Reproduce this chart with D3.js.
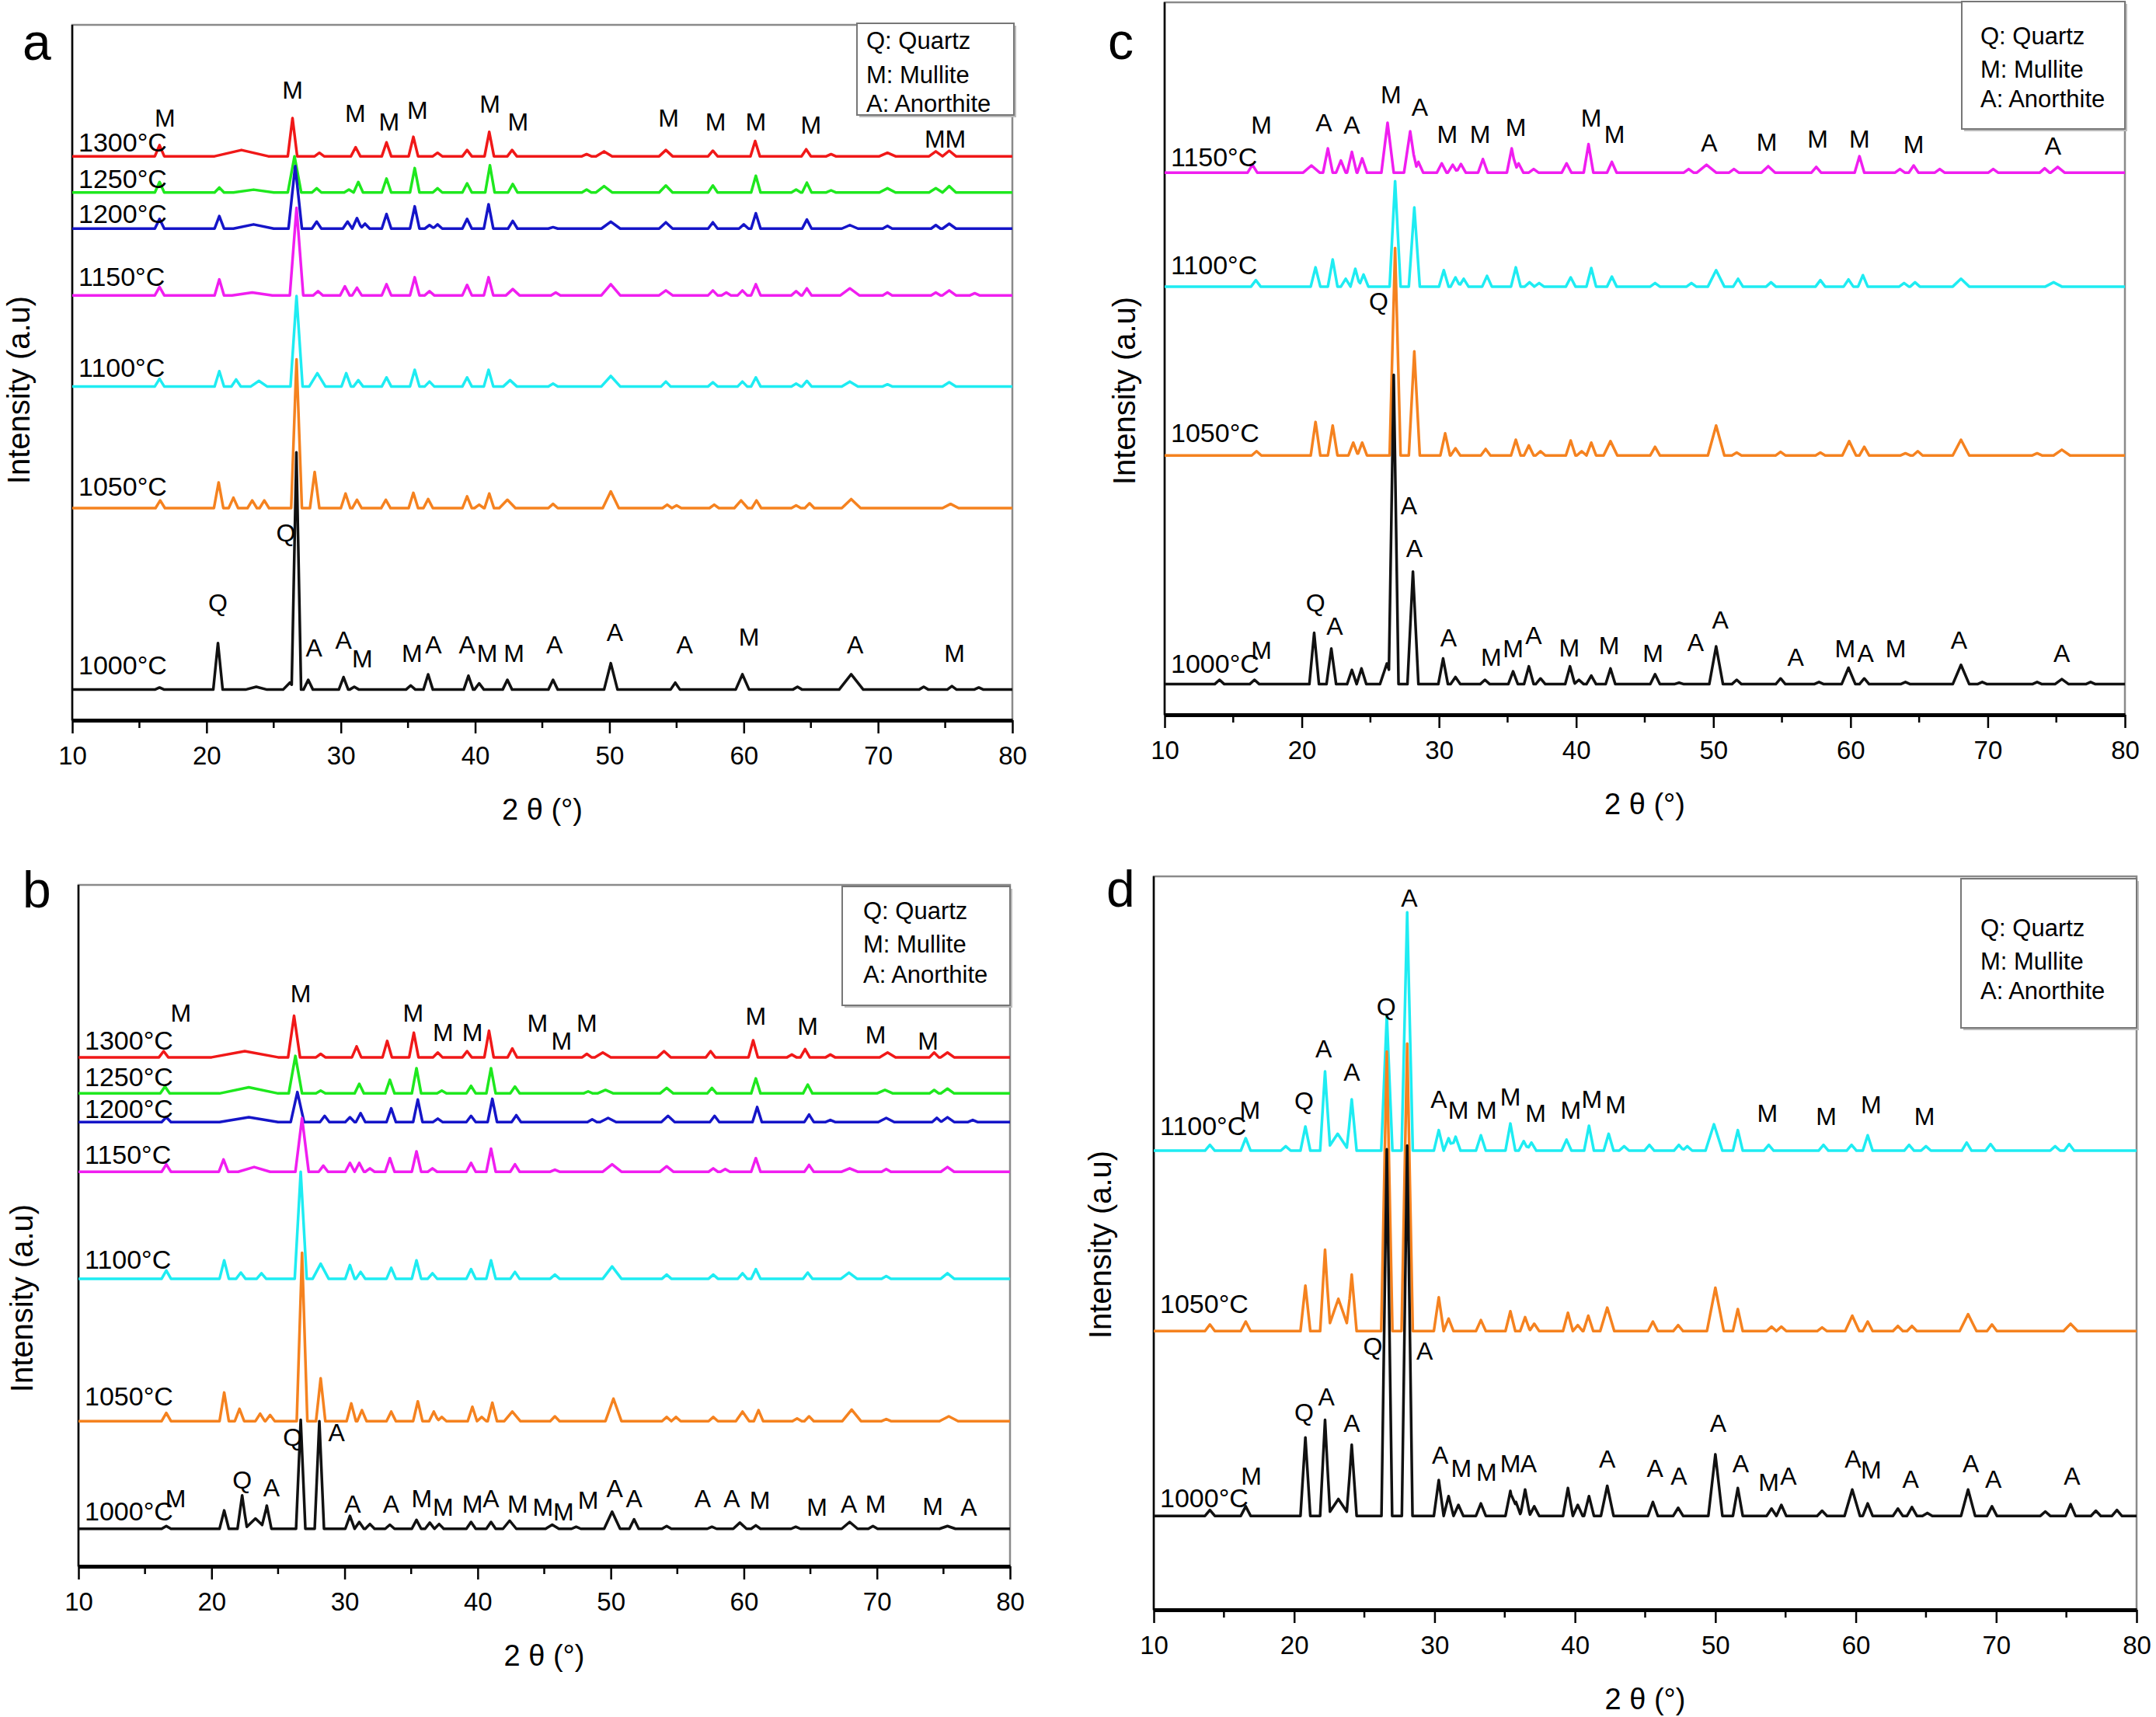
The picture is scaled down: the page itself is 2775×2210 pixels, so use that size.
<!DOCTYPE html>
<html>
<head>
<meta charset="utf-8">
<script src="https://cdn.jsdelivr.net/npm/d3@7"></script>
<style>
  body { margin: 0; background: #fff; }
  text { font-family: "Liberation Sans", Arial, sans-serif; fill: #000; }
</style>
</head>
<body>
<div id="chart"></div>
<script>
// ---- data: peaks are [2theta, intensity (a.u., 0-1000 per panel), half width (deg, optional)]
const xTicks = [10, 20, 30, 40, 50, 60, 70, 80]
const xMinorTicks = [15, 25, 35, 45, 55, 65, 75]
const legendRows = ["Q: Quartz", "M: Mullite", "A: Anorthite"]
const tempsAB = ["1000°C", "1050°C", "1100°C", "1150°C", "1200°C", "1250°C", "1300°C"]
const tempsC = ["1000°C", "1050°C", "1100°C", "1150°C"]
const tempsD = ["1000°C", "1050°C", "1100°C"]
const tempColors = ["#111111", "#f5821f", "#1eecf2", "#f01ef0", "#1515c8", "#1ee81e", "#f01818"]

const offsetsA = [44, 305, 480, 611, 707, 759, 811]
const offsetsB = [55, 213, 422, 579, 652, 694, 747]
const offsetsC = [43, 364, 601, 761]
const offsetsD = [128, 380, 626]

const tempLabelA = [66, 323, 494, 625, 715, 765, 818]
const tempLabelB = [67, 236, 437, 591, 658, 705, 758]
const tempLabelC = [59, 383, 618, 770]
const tempLabelD = [140, 405, 647]

const peaksA = [
  [[16.5,3],[20.85,67],[23.7,4,0.8],[26.2,10,0.5],[26.69,341],[27.57,14],[30.2,18],[31.0,4],[35.2,6],[36.5,22],[39.5,20],[40.3,9],[42.4,14],[45.8,14],[50.1,38,0.5],[54.9,10],[59.9,22,0.5],[64.0,4],[68.0,22,0.9],[73.4,4],[75.5,5],[77.5,3]],
  [[16.55,11],[20.9,37],[22.0,15],[23.4,11],[24.3,11],[26.7,214,0.4],[28.05,52],[30.35,21],[31.2,12],[33.35,12],[35.4,22],[36.5,13],[39.4,17],[40.3,5],[41.05,21],[42.4,12,0.6],[45.8,6],[50.1,24,0.6],[54.3,5],[55.0,4],[57.8,5],[59.8,11,0.5],[60.95,11],[63.9,4],[64.9,7],[68.0,13,0.7],[75.4,6,0.6]],
  [[16.5,11],[20.95,22],[22.2,10],[23.9,8,0.6],[26.7,130,0.45],[28.25,19,0.6],[30.4,19],[31.3,9],[33.4,13],[35.5,24],[36.6,7],[39.4,13],[41.0,24],[42.6,9,0.5],[45.8,4],[50.1,15,0.7],[54.2,7],[57.7,6],[59.9,7],[60.9,13],[63.9,4],[64.7,8],[67.9,7,0.6],[70.7,3],[75.3,6,0.5]],
  [[16.5,12],[20.95,23],[23.4,4,1.5],[26.7,126,0.5],[28.3,6],[30.3,13],[31.2,11],[33.4,16],[35.5,26],[36.6,6],[39.4,15],[41.0,26],[42.8,9,0.5],[46.0,4],[50.1,16,0.7],[54.2,7,0.5],[57.7,7],[58.7,4],[59.9,7],[60.9,16],[63.9,6],[64.7,10],[67.9,10,0.7],[70.7,4],[74.3,4],[75.3,7,0.5],[77.2,3]],
  [[16.5,14],[20.95,18],[23.5,6,1.5],[26.6,90,0.5],[28.2,10],[30.5,10],[31.2,15],[31.8,7],[33.4,21],[35.5,32],[36.6,5],[37.2,6],[39.4,14],[41.0,35],[42.8,11],[45.8,2],[50.1,10,0.7],[54.2,9,0.5],[57.7,9],[60.0,6],[60.9,22],[64.7,13],[67.9,5,0.6],[70.7,4],[74.3,5],[75.3,7,0.5]],
  [[16.5,15],[20.95,7],[23.5,4,1.5],[26.55,52,0.5],[28.2,6],[30.6,4],[31.3,15],[33.4,20],[35.5,35],[37.2,6],[39.4,13],[41.1,39],[42.8,12],[48.3,4],[49.6,9,0.6],[54.2,10,0.5],[57.7,10],[60.9,24],[63.9,4],[64.7,14],[66.5,3],[70.7,6,0.6],[74.3,6,0.5],[75.3,9,0.5]],
  [[16.5,16],[22.6,9,2],[26.4,55],[28.4,5],[31.1,13],[33.4,20],[35.4,28],[37.2,5],[39.4,9],[41.05,35],[42.75,9],[48.3,3],[49.6,7,0.6],[54.2,9,0.5],[57.7,8],[60.85,22],[64.65,10],[66.5,3],[70.7,5,0.6],[74.3,7,0.5],[75.3,8,0.5]]
]

const peaksB = [
  [[16.6,4],[20.95,27],[22.3,49],[23.3,15,0.8],[24.15,34],[26.7,160],[28.1,158],[30.4,19],[31.1,10],[31.9,7],[33.4,6],[35.4,13],[36.4,9],[37.1,7],[39.5,10],[41.0,10],[42.4,12,0.5],[45.6,6,0.5],[47.4,3],[50.1,25,0.6],[51.75,14],[54.2,4],[57.6,3],[59.7,9,0.5],[60.9,5],[63.9,3],[67.95,10,0.6],[69.7,4],[75.3,4,0.6]],
  [[16.6,12],[20.95,42],[22.1,18],[23.65,11],[24.4,9],[26.8,247,0.4],[28.2,63],[30.5,26],[31.3,16],[33.5,14],[35.5,29],[36.7,14],[37.3,6],[39.6,21],[40.3,6],[41.1,27],[42.6,14,0.6],[45.8,7],[50.2,33,0.6],[54.2,6],[54.9,6],[57.7,6],[59.9,14,0.5],[61.1,16],[64.0,4],[64.9,7],[68.1,17,0.7],[70.7,3],[75.4,7,0.7]],
  [[16.6,12],[20.95,27],[22.2,9],[23.75,8],[26.7,157,0.45],[28.2,22,0.6],[30.4,20],[31.2,10],[33.5,16],[35.4,27],[36.6,8],[39.5,14],[41.0,27],[42.8,10],[45.8,6],[50.1,18,0.7],[54.2,6],[57.7,6],[59.9,8],[60.9,14],[64.8,9],[67.9,9,0.6],[70.7,4],[75.3,8,0.5]],
  [[16.6,11],[20.9,18],[23.2,7,1.2],[26.8,79,0.5],[28.4,9],[30.4,13],[31.1,13],[31.9,5],[33.4,20],[35.4,30],[36.6,5],[39.5,13],[41.0,34],[42.8,11],[45.8,3],[50.1,11,0.7],[54.2,8,0.5],[57.7,5],[58.6,4],[60.9,20],[64.9,10],[67.95,5,0.6],[70.7,4],[75.3,7,0.5]],
  [[16.6,7],[22.8,7,2.2],[26.45,44,0.5],[28.5,9],[30.4,7],[31.2,13],[33.5,20],[35.5,33],[37.0,5],[39.5,9],[41.1,34],[42.9,10],[48.6,4],[49.8,6,0.6],[54.3,9,0.5],[57.8,9],[61.0,22],[64.9,11],[66.5,3],[70.7,6,0.6],[74.5,6],[75.3,7,0.5],[77.2,3]],
  [[16.5,10],[22.8,9,2.2],[26.3,55,0.5],[28.2,4],[31.1,14],[33.4,20],[35.4,37],[37.3,4],[39.5,11],[41.0,37],[42.8,10],[48.3,3],[49.6,5,0.6],[54.2,8,0.5],[57.6,8],[60.9,22],[64.8,13],[70.6,5,0.6],[74.3,5],[75.3,7,0.5]],
  [[16.4,9],[22.5,9,2.5],[26.2,61,0.45],[28.2,5],[30.9,16],[33.2,24],[35.2,36],[37.0,7],[39.2,9],[40.85,39],[42.6,13],[48.2,5],[49.4,7,0.6],[54.0,9,0.5],[57.5,9],[60.7,25],[63.6,4],[64.6,12],[66.5,4],[70.8,7,0.6],[74.3,7],[75.3,7,0.5]]
]

const peaksC = [
  [[14.0,6],[16.55,6],[20.9,72],[22.15,50],[23.65,20],[24.35,22],[26.2,29,0.5],[26.7,434],[28.1,158,0.4],[30.3,36],[31.2,10],[33.35,6],[35.4,18],[36.55,25],[37.4,8],[39.55,25],[40.2,6],[41.1,12],[42.5,22],[45.75,14],[47.5,2],[50.2,53,0.5],[51.7,6],[54.9,8],[57.7,3],[59.85,23,0.5],[61.0,8],[64.0,3],[68.05,27,0.6],[69.6,3],[73.6,3],[75.4,7,0.5],[77.5,3]],
  [[16.7,6],[21.0,47],[22.25,42],[23.75,18],[24.4,18],[26.8,291,0.4],[28.2,146,0.4],[30.45,31],[31.2,10],[33.4,9],[35.6,22],[36.55,14],[37.4,6],[39.6,21],[40.4,6],[41.1,18],[42.5,20,0.5],[45.75,12],[50.2,42,0.6],[51.7,4],[54.9,5],[57.8,4],[59.9,20,0.5],[61.0,12],[64.0,3],[64.9,6],[68.05,22,0.6],[73.6,3],[75.4,8,0.6]],
  [[16.65,9],[21.0,27],[22.25,38],[23.2,11],[23.9,25],[24.5,17],[26.8,148,0.4],[28.2,111,0.4],[30.35,23],[31.2,13],[31.8,11],[33.5,15],[35.6,27],[36.6,6],[37.3,5],[39.6,13],[41.1,26],[42.6,14],[45.75,5],[48.4,5],[50.2,23,0.6],[51.8,11],[54.2,6],[57.8,9],[59.85,10],[60.9,16],[63.9,5],[64.7,6],[68.05,11,0.6],[74.8,6,0.6]],
  [[16.4,11],[20.7,10,0.6],[21.9,34],[22.85,17],[23.65,29],[24.4,20],[26.25,70,0.45],[27.9,58,0.45],[28.5,15],[30.2,13],[31.0,11],[31.6,12],[33.2,19],[35.3,34],[35.8,13],[36.9,5],[39.3,13],[40.9,40],[42.6,15],[48.2,5],[49.5,11,0.7],[51.5,5],[54.0,9,0.5],[57.5,8],[60.65,23],[63.6,5],[64.6,10],[66.5,5],[70.4,5],[74.15,6],[75.1,8,0.5]]
]

const peaksD = [
  [[14.0,8],[16.55,13],[20.8,107],[22.2,131],[23.15,23,0.8],[24.1,97],[26.6,500,0.38],[28.05,505,0.38],[30.3,49],[31.0,27],[31.7,15],[33.3,17],[35.4,34],[35.8,19],[36.45,36],[37.1,13],[39.5,38],[40.2,15],[41.0,27],[42.3,41,0.45],[45.55,19],[47.35,11],[50.0,84,0.5],[51.6,38],[54.0,10],[54.7,15],[57.6,7],[59.75,36,0.55],[60.85,17],[63.0,10],[64.0,12],[65.1,4],[68.0,36,0.5],[69.7,13],[73.5,6],[75.3,16],[77.1,7],[78.6,8]],
  [[14.0,9],[16.55,13],[20.8,62],[22.2,111],[23.15,44,0.8],[24.1,77],[26.6,381,0.4],[28.05,392,0.4],[30.3,46],[31.0,17],[33.3,15],[35.4,27],[36.45,19],[37.1,10],[39.5,25],[40.2,8],[40.95,21],[42.3,32,0.5],[45.55,13],[47.35,8],[50.0,59,0.6],[51.6,30],[54.0,6],[54.7,6],[57.6,5],[59.75,21,0.5],[60.85,13],[63.0,7],[64.0,7],[68.0,23,0.6],[69.7,9],[75.3,10,0.5]],
  [[14.0,8],[16.55,17],[19.4,6],[20.8,33],[22.2,108],[23.1,23,0.8],[24.1,70],[26.6,184,0.4],[28.05,325,0.4],[30.3,28],[31.0,17],[31.5,19],[33.3,21],[35.4,37],[36.35,13],[36.9,11],[39.4,15],[41.0,34],[42.4,23],[43.5,6],[45.3,8],[47.4,8],[48.0,6],[49.9,36,0.6],[51.6,28],[53.8,8],[57.7,8],[59.7,8],[60.85,21],[63.8,8],[65.0,6],[67.9,11],[69.6,9],[74.2,6],[75.2,9]]
]

// phase labels: [text, 2theta, intensity at baseline]
const labelsA = [
  ["M",16.9,854],["M",26.4,894],["M",31.07,860],["M",33.6,848],["M",35.7,865],["M",41.1,874],["M",43.2,848],["M",54.4,854],["M",57.9,848],["M",60.9,848],["M",65.0,844],["MM",75.0,823],
  ["Q",20.85,156],["Q",25.9,257],["A",28.0,92],["A",30.2,103],["M",31.6,76],["M",35.3,84],["A",36.9,96],["A",39.4,96],["M",40.9,84],["M",42.9,84],["A",45.9,96],["A",50.4,114],["A",55.6,96],["M",60.4,107],["A",68.3,96],["M",75.7,84]
]
const labelsB = [
  ["M",17.7,799],["M",26.7,828],["M",35.15,799],["M",37.4,771],["M",39.6,771],["M",44.5,784],["M",46.3,758],["M",48.2,784],["M",60.9,795],["M",64.8,780],["M",69.9,767],["M",73.85,758],
  ["M",17.3,87],["Q",22.3,114],["A",24.5,103],["Q",26.1,177],["A",29.4,184],["A",30.6,79],["A",33.5,79],["M",35.8,87],["M",37.4,74],["M",39.6,79],["A",41.0,87],["M",43.0,79],["M",44.9,74],["M",46.45,67],["M",48.3,84],["A",50.3,101],["A",51.75,87],["A",56.9,87],["A",59.1,87],["M",61.2,84],["M",65.5,74],["A",67.9,79],["M",69.9,79],["M",74.2,75],["A",76.9,74]
]
const labelsC = [
  ["M",17.05,816],["A",21.6,819],["A",23.65,816],["M",26.5,858],["A",28.6,841],["M",30.6,803],["M",33.0,803],["M",35.6,812],["M",41.1,825],["M",42.8,803],["A",49.7,791],["M",53.9,792],["M",57.6,796],["M",60.65,796],["M",64.6,788],["A",74.75,786],
  ["Q",25.6,568],
  ["M",17.05,78],["Q",21.0,145],["A",22.4,112],["A",27.8,281],["A",28.2,221],["A",30.7,96],["M",33.8,69],["M",35.4,81],["A",36.9,99],["M",39.5,82],["M",42.4,85],["M",45.6,74],["A",48.7,89],["A",50.5,121],["A",56.0,69],["M",59.6,81],["A",61.1,74],["M",63.3,81],["A",67.9,93],["A",75.4,74]
]
const labelsD = [
  ["M",16.85,670],["Q",20.7,682],["A",22.1,753],["A",24.1,721],["Q",26.55,810],["A",28.2,959],["A",30.3,684],["M",31.7,670],["M",33.7,670],["M",35.4,688],["M",37.2,665],["M",39.7,670],["M",41.2,684],["M",42.9,677],["M",53.7,665],["M",57.9,661],["M",61.1,677],["M",64.9,661],
  ["M",16.95,171],["Q",20.7,257],["A",22.3,279],["A",24.1,243],["Q",25.6,347],["A",29.3,341],["A",30.4,199],["M",31.9,181],["M",33.7,176],["M",35.4,188],["A",36.7,188],["A",42.3,194],["A",45.7,181],["A",47.4,171],["A",50.2,243],["A",51.8,188],["M",53.8,162],["A",55.2,171],["A",59.8,194],["M",61.1,179],["A",63.9,166],["A",68.2,188],["A",69.8,166],["A",75.4,171]
]

// ---- layout
const panels = [
  { letter: "a", left: 93, right: 1303, top: 32, bottom: 927, letterX: 29, letterY: 77,
    temps: tempsAB, offsets: offsetsA, tempY: tempLabelA, peaks: peaksA, labels: labelsA,
    legend: { x: 1103, y: 30, w: 202, h: 118, tx: 1115, rows: [63, 107, 144] }, yLabel: { x: 38, y: 502 } },
  { letter: "b", left: 101, right: 1300, top: 1139, bottom: 2016, letterX: 29, letterY: 1168,
    temps: tempsAB, offsets: offsetsB, tempY: tempLabelB, peaks: peaksB, labels: labelsB,
    legend: { x: 1084, y: 1141, w: 216, h: 153, tx: 1111, rows: [1183, 1226, 1265] }, yLabel: { x: 42, y: 1671 } },
  { letter: "c", left: 1499, right: 2735, top: 3, bottom: 920, letterX: 1426, letterY: 76,
    temps: tempsC, offsets: offsetsC, tempY: tempLabelC, peaks: peaksC, labels: labelsC,
    legend: { x: 2525, y: 2, w: 210, h: 164, tx: 2549, rows: [57, 100, 138] }, yLabel: { x: 1461, y: 503 } },
  { letter: "d", left: 1485, right: 2750, top: 1128, bottom: 2072, letterX: 1424, letterY: 1167,
    temps: tempsD, offsets: offsetsD, tempY: tempLabelD, peaks: peaksD, labels: labelsD,
    legend: { x: 2524, y: 1131, w: 226, h: 192, tx: 2549, rows: [1205, 1248, 1286] }, yLabel: { x: 1430, y: 1602 } },
]

const halfWidth = p => p[2] || 0.35

// line through the peak list: each reflection is a narrow spike on the series baseline
function profile(peaks, offset) {
  const xs = [10, 80]
  peaks.forEach(p => xs.push(p[0] - halfWidth(p), p[0], p[0] + halfWidth(p)))
  const pts = Array.from(new Set(xs)).filter(x => x >= 10 && x <= 80).sort((a, b) => a - b)
  return pts.map(x => [
    x,
    offset + d3.sum(peaks, p => Math.max(0, p[1] * (1 - Math.abs(x - p[0]) / halfWidth(p)))),
  ])
}

function drawPanel(svg, p) {
  const xScale = d3.scaleLinear().domain([10, 80]).range([p.left, p.right])
  const yScale = d3.scaleLinear().domain([0, 1000]).range([p.bottom, p.top])

  const g = svg.append("g")

  // frame
  g.append("rect")
    .attr("x", p.left).attr("y", p.top)
    .attr("width", p.right - p.left).attr("height", p.bottom - p.top)
    .attr("fill", "none").attr("stroke", "#8a8a8a").attr("stroke-width", 2.5)
  g.append("line")
    .attr("x1", p.left).attr("x2", p.left).attr("y1", p.top).attr("y2", p.bottom)
    .attr("stroke", "#000").attr("stroke-width", 2.5)

  // patterns, hottest first so the 1000°C trace sits on top
  const line = d3.line().x(d => xScale(d[0])).y(d => yScale(d[1]))
  const order = d3.range(p.temps.length).reverse()
  g.append("g")
    .selectAll("path")
    .data(order)
    .join("path")
    .attr("d", i => line(profile(p.peaks[i], p.offsets[i])))
    .attr("fill", "none")
    .attr("stroke", i => tempColors[i])
    .attr("stroke-width", 3.5)
    .attr("stroke-linejoin", "round")

  // temperature labels
  g.append("g")
    .selectAll("text")
    .data(p.temps)
    .join("text")
    .attr("x", p.left + 8)
    .attr("y", (d, i) => yScale(p.tempY[i]))
    .attr("font-size", 34)
    .text(d => d)

  // phase labels
  g.append("g")
    .selectAll("text")
    .data(p.labels)
    .join("text")
    .attr("x", d => xScale(d[1]))
    .attr("y", d => yScale(d[2]))
    .attr("text-anchor", "middle")
    .attr("font-size", 32)
    .text(d => d[0])

  // x axis
  const xAxis = d3.axisBottom(xScale)
    .tickValues(xTicks)
    .tickSize(17)
    .tickSizeOuter(0)
    .tickPadding(17)
    .tickFormat(d3.format("d"))
  const xAxisGroup = g.append("g")
    .attr("transform", `translate(0, ${p.bottom})`)
    .call(xAxis)
  xAxisGroup.select(".domain").attr("stroke", "#000").attr("stroke-width", 5)
  xAxisGroup.selectAll(".tick line").attr("stroke-width", 2.5)
  xAxisGroup.selectAll(".tick text")
    .attr("font-size", 33)
    .attr("font-family", '"Liberation Sans", Arial, sans-serif')

  g.append("g")
    .selectAll("line")
    .data(xMinorTicks)
    .join("line")
    .attr("x1", d => xScale(d)).attr("x2", d => xScale(d))
    .attr("y1", p.bottom).attr("y2", p.bottom + 10)
    .attr("stroke", "#000").attr("stroke-width", 2.5)

  g.append("text")
    .attr("x", (p.left + p.right) / 2)
    .attr("y", p.bottom + 128)
    .attr("text-anchor", "middle")
    .attr("font-size", 38)
    .text("2 θ (°)")

  g.append("text")
    .attr("transform", `translate(${p.yLabel.x}, ${p.yLabel.y}) rotate(-90)`)
    .attr("text-anchor", "middle")
    .attr("font-size", 40)
    .text("Intensity (a.u)")

  // panel letter
  g.append("text")
    .attr("x", p.letterX)
    .attr("y", p.letterY)
    .attr("font-size", 66)
    .text(p.letter)

  // legend
  const lg = p.legend
  g.append("rect")
    .attr("x", lg.x + 3).attr("y", lg.y + 3)
    .attr("width", lg.w).attr("height", lg.h)
    .attr("fill", "#bbb")
  g.append("rect")
    .attr("x", lg.x).attr("y", lg.y)
    .attr("width", lg.w).attr("height", lg.h)
    .attr("fill", "#fff").attr("stroke", "#777").attr("stroke-width", 2)
  g.append("g")
    .selectAll("text")
    .data(legendRows)
    .join("text")
    .attr("x", lg.tx)
    .attr("y", (d, i) => lg.rows[i])
    .attr("font-size", 31)
    .text(d => d)
}

function draw() {
  const svg = d3
    .select("#chart")
    .append("svg")
    .attr("width", 2775)
    .attr("height", 2210)

  panels.forEach(p => drawPanel(svg, p))
}

draw()
</script>
</body>
</html>
